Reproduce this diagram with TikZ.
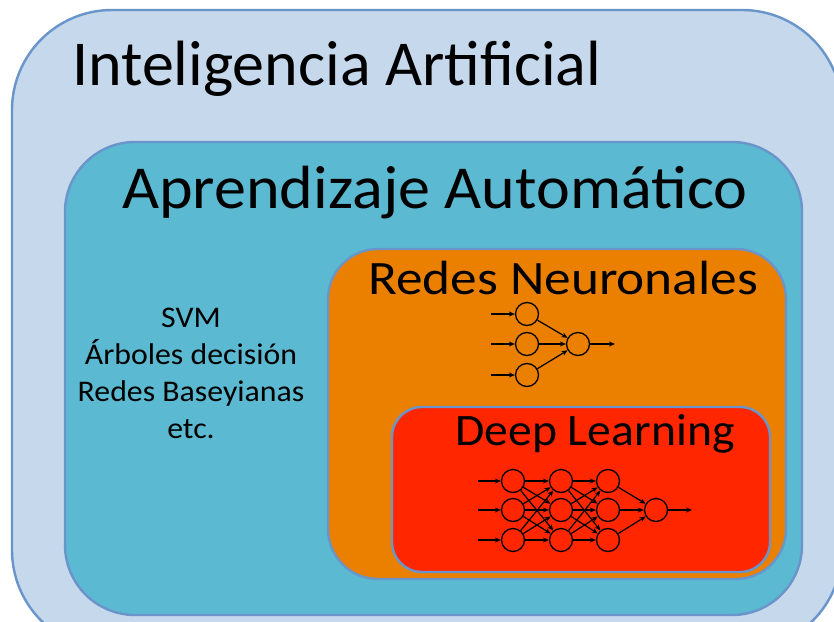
\documentclass[tikz,border=0pt]{standalone}
\usepackage{fontspec}
\usepackage{graphicx}
\setmainfont{Carlito}
\usetikzlibrary{arrows.meta}
\definecolor{bordc}{HTML}{6A95CA}
\definecolor{iafill}{HTML}{C6D8EC}
\definecolor{aafill}{HTML}{5BB9D1}
\definecolor{rnfill}{HTML}{EB7F00}
\definecolor{dlfill}{HTML}{FF2600}
\tikzset{
  region/.style={draw=bordc, line width=2.4pt},
  neuron/.style={circle, draw=black, line width=1.3pt, minimum size=23pt, inner sep=0pt},
  syn/.style={-{Stealth[length=6pt,width=5pt]}, line width=1.2pt},
  title/.style={anchor=base west, inner sep=0pt},
  listtxt/.style={anchor=base, inner sep=0pt, font=\fontsize{30}{36}\selectfont},
}
\begin{document}
\begin{tikzpicture}[x=1pt,y=-1pt]
\useasboundingbox (0,0) rectangle (834,621);
\clip (0,0) rectangle (834,621);
\fill[white] (0,0) rectangle (834,621);
% regions
\draw[region, fill=iafill, rounded corners=100pt] (12,10) rectangle (842,650);
\draw[region, fill=aafill, rounded corners=70pt] (65,142) rectangle (802,615);
\draw[region, fill=rnfill, rounded corners=50pt] (328,249) rectangle (786,579);
\draw[region, fill=dlfill, rounded corners=30pt] (392,407) rectangle (770,572);
% titles
\node[title, font=\fontsize{64}{76}\selectfont] (tia) at (72,85) {Inteligencia Artificial};
\node[title, font=\fontsize{61}{72}\selectfont] (taa) at (122,208) {\scalebox{1.05}[1]{Aprendizaje Automático}};
\node[title, font=\fontsize{48}{56}\selectfont] (trn) at (368,294) {\scalebox{1.11}[1]{Redes Neuronales}};
\node[title, font=\fontsize{45}{53}\selectfont] (tdl) at (455,445) {\scalebox{1.06}[1]{Deep Learning}};
% list
\node[listtxt] (l1) at (191,327) {\scalebox{1.06}[1]{SVM}};
\node[listtxt] (l2) at (191,364) {\scalebox{1.06}[1]{Árboles decisión}};
\node[listtxt] (l3) at (191,401) {\scalebox{1.06}[1]{Redes Baseyianas}};
\node[listtxt] (l4) at (191,438) {\scalebox{1.06}[1]{etc.}};
% small network
\node[neuron] (a1) at (527,314) {};
\node[neuron] (a2) at (527,344) {};
\node[neuron] (a3) at (527,375) {};
\node[neuron] (ao) at (578,344) {};
\coordinate (ai1) at (491,314);
\coordinate (ai2) at (491,344);
\coordinate (ai3) at (491,375);
\coordinate (aend) at (615,344);
\foreach \i in {1,2,3} {
  \draw[syn] (ai\i) -- (a\i);
  \draw[syn] (a\i) -- (ao);
}
\draw[syn] (ao) -- (aend);
% deep network
\foreach \i/\y in {1/481,2/510,3/540} {
  \node[neuron] (p\i) at (513,\y) {};
  \node[neuron] (q\i) at (561,\y) {};
  \node[neuron] (r\i) at (608,\y) {};
  \coordinate (pi\i) at (478,\y);
}
\node[neuron] (po) at (656,510) {};
\coordinate (pend) at (692,510);
\foreach \i in {1,2,3} {
  \draw[syn] (pi\i) -- (p\i);
  \draw[syn] (r\i) -- (po);
  \foreach \j in {1,2,3} {
    \draw[syn] (p\i) -- (q\j);
    \draw[syn] (q\i) -- (r\j);
  }
}
\draw[syn] (po) -- (pend);
\end{tikzpicture}
\end{document}
